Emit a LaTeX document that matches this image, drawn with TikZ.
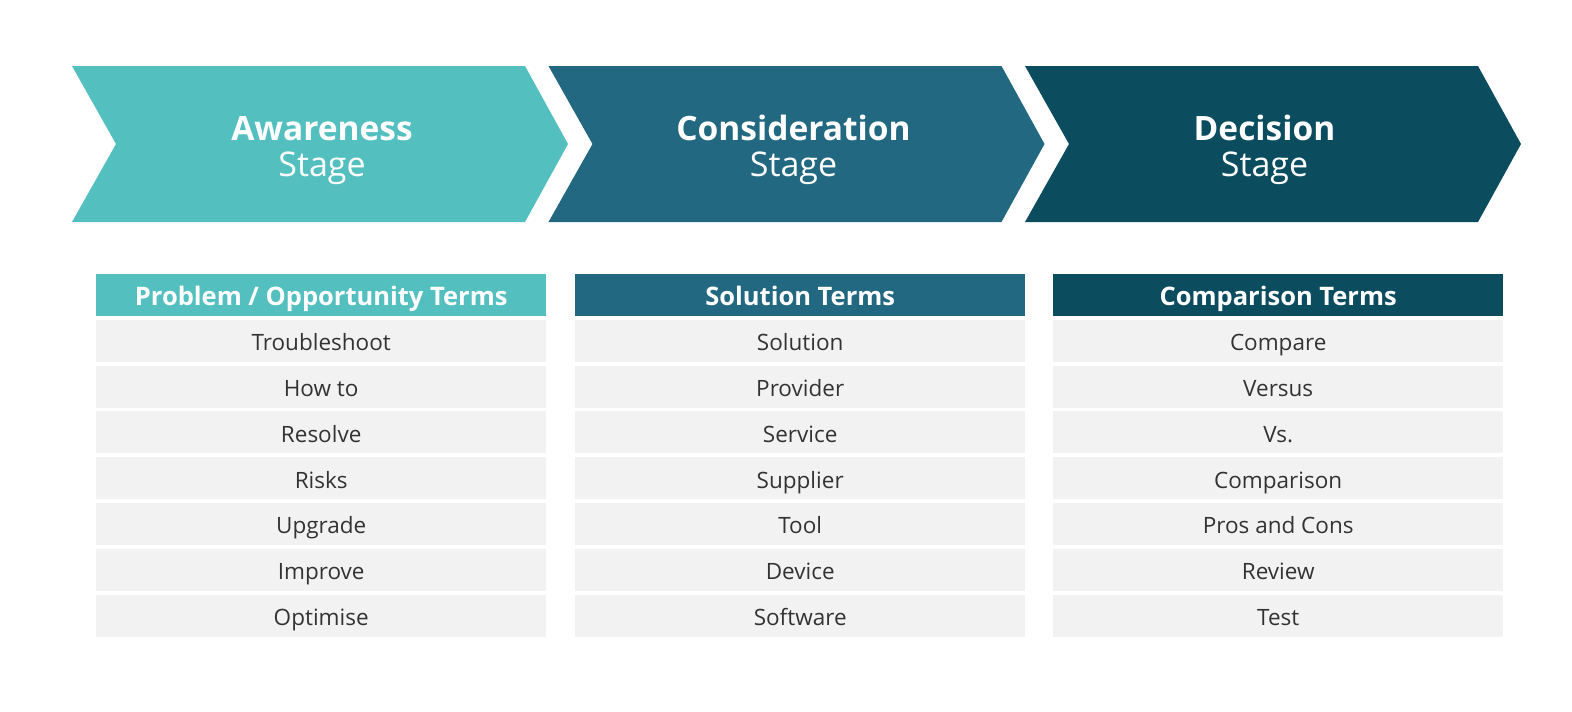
\documentclass[tikz,border=0pt]{standalone}
\usepackage{fontspec}
\setmainfont{Open Sans}[Ligatures=NoCommon]
\definecolor{cteal}{RGB}{84,191,191}
\definecolor{cmid}{RGB}{33,104,128}
\definecolor{cdark}{RGB}{11,77,94}
\definecolor{rowbg}{RGB}{242,242,242}
\definecolor{txt}{RGB}{51,51,51}
\begin{document}
\begin{tikzpicture}[x=1pt,y=-1pt,
  stagebold/.style={text=white,anchor=base,inner sep=0pt,font=\bfseries\fontsize{33.5}{37}\selectfont},
  stagereg/.style={text=white,anchor=base,inner sep=0pt,font=\fontsize{34}{37}\selectfont},
  headbox/.style={minimum width=450pt,minimum height=42pt,inner sep=0pt,text height=21pt,text depth=0pt,text=white,font=\bfseries\fontsize{25.5}{28}\selectfont,anchor=north west},
  rowbox/.style={fill=rowbg,minimum width=450pt,minimum height=42pt,inner sep=0pt,text height=20pt,text depth=0pt,text=txt,font=\fontsize{22.5}{24}\selectfont,anchor=north west}]
\useasboundingbox (0,0) rectangle (1572,712);
\fill[white] (0,0) rectangle (1572,712);
% chevrons
\foreach \c [count=\i from 0] in {cteal,cmid,cdark}{
  \fill[\c,shift={(476.5*\i,0)}] (72,66) -- (525,66) -- (568,144) -- (525,222) -- (72,222) -- (116,144) -- cycle;
}
\node[stagebold] (s1a) at (322,140) {Awareness};
\node[stagereg]  (s1b) at (322,176) {Stage};
\node[stagebold] (s2a) at (793.5,140) {Consideration};
\node[stagereg]  (s2b) at (793.5,176) {Stage};
\node[stagebold] (s3a) at (1264.5,140) {Decision};
\node[stagereg]  (s3b) at (1264.5,176) {Stage};
% headers
\node[headbox,fill=cteal] (h1) at (96,274) {Problem / Opportunity Terms};
\node[headbox,fill=cmid] (h2) at (575,274) {Solution Terms};
\node[headbox,fill=cdark] (h3) at (1053,274) {Comparison Terms};
% rows
\foreach \t [count=\k from 0] in {Troubleshoot,How to,Resolve,Risks,Upgrade,Improve,Optimise}
  \node[rowbox] (a\k) at (96,319.5+45.8*\k) {\t};
\foreach \t [count=\k from 0] in {Solution,Provider,Service,Supplier,Tool,Device,Software}
  \node[rowbox] (b\k) at (575,319.5+45.8*\k) {\t};
\foreach \t [count=\k from 0] in {Compare,Versus,Vs.,Comparison,Pros and Cons,Review,Test}
  \node[rowbox] (c\k) at (1053,319.5+45.8*\k) {\t};
\end{tikzpicture}
\end{document}
